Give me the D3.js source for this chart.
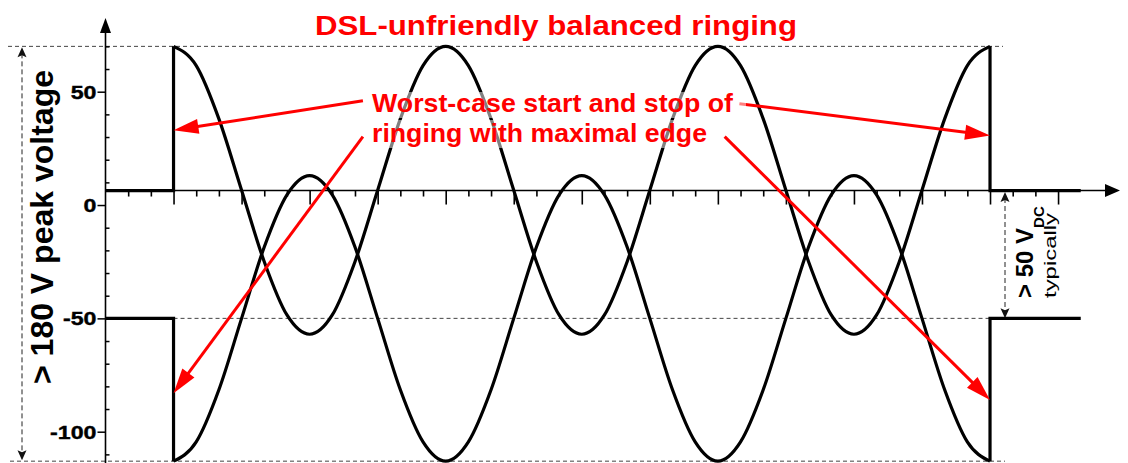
<!DOCTYPE html>
<html><head><meta charset="utf-8">
<script src="https://cdn.jsdelivr.net/npm/d3@7"></script>
<style>html,body{margin:0;padding:0;background:#fff;}svg{display:block;}text{font-family:Arial,"Liberation Sans",Helvetica,sans-serif;}</style>
</head><body>
<svg id="c" width="1128" height="463"></svg>
<script>
// ---- data (x in tick units, y in volts) ----
const ringX = [3,4,5,6,7,8,9,10,11,12,13,14,15,16,17,18,19,20,21,22,23,24,25,26,27,28,29,30,31,32,33,34,35,36,37,38,39];
const tipV  = [70,61.5,38,6.5,-25,-48.5,-57,-48.5,-25,6.5,38,61.5,
               70,61.5,38,6.5,-25,-48.5,-57,-48.5,-25,6.5,38,61.5,
               70,61.5,38,6.5,-25,-48.5,-57,-48.5,-25,6.5,38,61.5,70];
const ringV = [-113,-104.5,-81.5,-50,-18.5,4.5,13,4.5,-18.5,-50,-81.5,-104.5,
               -113,-104.5,-81.5,-50,-18.5,4.5,13,4.5,-18.5,-50,-81.5,-104.5,
               -113,-104.5,-81.5,-50,-18.5,4.5,13,4.5,-18.5,-50,-81.5,-104.5,-113];
const idleX = [0, 3, 39, 43];        // idle start, ringing start, ringing end, idle end
const tipIdle = 6.4, ringIdle = -50;
const tipPeak = 70, ringPeak = -113;
const minorX = [1,2,4,5,7,8,10,11,13,14,16,17,19,20,22,23,25,26,28,29,31,32,34,35,37,38,40,41];
const majorX = [3,6,9,12,15,18,21,24,27,30,33,36,39,42];
const minorY = [70,60,40,30,20,10,-10,-20,-30,-40,-60,-70,-80,-90,-110];
const majorY = [50,0,-50,-100];
const yLabels = ["50","0","-50","-100"];
const titleText = "DSL-unfriendly balanced ringing";
const noteLines = ["Worst-case start and stop of","ringing with maximal edge"];
const noteArrows = [
  {from:[11.35,46.0], to:[3,33]},
  {from:[27.95,44.7], to:[39,30.7]},
  {from:[11.35,30.2], to:[3,-83]},
  {from:[27.3,30.2],  to:[39,-86]}
];

// ---- setup ----
const svg = d3.select("#c");
const x = d3.scaleLinear().domain([0,42]).range([105.5, 105.5+42*22.68]);
const y = d3.scaleLinear().domain([-100,50]).range([431.7, 91.7]);
const RED = "#ff0000";
const FONT = "Arial, 'Liberation Sans', Helvetica, sans-serif";

// dashed reference lines
const dash = svg.append("g").attr("stroke","#444").attr("stroke-width",1).attr("stroke-dasharray","4,3").attr("fill","none");
dash.append("line").attr("x1",8).attr("x2",1003).attr("y1",y(tipPeak)).attr("y2",y(tipPeak));
dash.append("line").attr("x1",10).attr("x2",1005).attr("y1",y(ringPeak)).attr("y2",y(ringPeak));
dash.append("line").attr("x1",x(idleX[1])).attr("x2",x(idleX[2])).attr("y1",y(ringIdle)).attr("y2",y(ringIdle));

// dimension arrows (dashed, double headed)
function dimArrow(xp, y1, y2){
  const g = svg.append("g");
  g.append("line").attr("x1",xp).attr("x2",xp).attr("y1",y1+6).attr("y2",y2-6)
    .attr("stroke","#222").attr("stroke-width",1).attr("stroke-dasharray","5,3");
  g.append("path").attr("d",`M${xp},${y1} L${xp+4.5},${y1+10} L${xp},${y1+8} L${xp-4.5},${y1+10} Z`).attr("fill","#111");
  g.append("path").attr("d",`M${xp},${y2} L${xp+4.5},${y2-10} L${xp},${y2-8} L${xp-4.5},${y2-10} Z`).attr("fill","#111");
}
dimArrow(22, y(tipPeak)+1, y(ringPeak)-1);
dimArrow(1005, y(tipIdle)+1.5, y(ringIdle));

// axes
const axY = svg.append("g");
axY.append("line").attr("x1",x(0)).attr("x2",x(0)).attr("y1",463).attr("y2",30).attr("stroke","#000").attr("stroke-width",1.6);
axY.append("path").attr("d",`M${x(0)},18 L${x(0)+5.5},33 L${x(0)-5.5},33 Z`).attr("fill","#000");
const gMinY = svg.append("g").attr("transform",`translate(${x(0)},0)`).call(d3.axisRight(y).tickValues(minorY).tickSize(4).tickFormat(""));
const gMajY = svg.append("g").attr("transform",`translate(${x(0)},0)`).call(d3.axisLeft(y).tickValues(majorY).tickSize(8).tickFormat(""));
[gMinY,gMajY].forEach(g=>{g.select(".domain").remove(); g.selectAll("line").attr("stroke","#000").attr("stroke-width",1.5);});
svg.append("g").selectAll("text").data(majorY).join("text")
  .attr("transform",d=>`translate(96.5,${y(d)+6.8}) scale(1.22,1)`)
  .attr("text-anchor","end").attr("font-family",FONT).attr("font-size",19).attr("font-weight",700)
  .attr("stroke","#000").attr("stroke-width",0.4)
  .text((d,i)=>yLabels[i]);

const axisY0 = y(tipIdle);
const axX = svg.append("g");
axX.append("line").attr("x1",x(0)).attr("x2",1106).attr("y1",axisY0).attr("y2",axisY0).attr("stroke","#000").attr("stroke-width",1.6);
axX.append("path").attr("d",`M1120,${axisY0} L1105,${axisY0-6.5} L1105,${axisY0+6.5} Z`).attr("fill","#000");
const gMinX = svg.append("g").attr("transform",`translate(0,${axisY0})`).call(d3.axisBottom(x).tickValues(minorX).tickSize(6).tickFormat(""));
const gMajX = svg.append("g").attr("transform",`translate(0,${axisY0})`).call(d3.axisBottom(x).tickValues(majorX).tickSize(14).tickFormat(""));
[gMinX,gMajX].forEach(g=>{g.select(".domain").remove(); g.selectAll("line").attr("stroke","#000").attr("stroke-width",1.6);});

// curves
const stepLine = d3.line().x(d=>x(d[0])).y(d=>y(d[1]));
const waveLine = d3.line().x(d=>x(d[0])).y(d=>y(d[1])).curve(d3.curveMonotoneX);
const curves = svg.append("g").attr("fill","none").attr("stroke","#000").attr("stroke-width",3.2);
function drawSignal(vals, idle, peak){
  curves.append("path").attr("d", stepLine([[idleX[0],idle],[idleX[1],idle],[idleX[1],peak]])).attr("stroke-linejoin","miter");
  curves.append("path").attr("d", waveLine(ringX.map((v,i)=>[v, vals[i]])));
  curves.append("path").attr("d", stepLine([[idleX[2],peak],[idleX[2],idle],[idleX[3],idle]])).attr("stroke-linejoin","miter");
}
drawSignal(tipV, tipIdle, tipPeak);
drawSignal(ringV, ringIdle, ringPeak);

// red annotation arrows
const arr = svg.append("g");
noteArrows.forEach(a=>{
  const x1=x(a.from[0]), y1=y(a.from[1]), x2=x(a.to[0]), y2=y(a.to[1]);
  const ang = Math.atan2(y2-y1, x2-x1);
  const L=25, Wd=7.5;
  const bx = x2 - L*Math.cos(ang), by = y2 - L*Math.sin(ang);
  arr.append("line").attr("x1",x1).attr("y1",y1).attr("x2",bx+4*Math.cos(ang)).attr("y2",by+4*Math.sin(ang))
    .attr("stroke",RED).attr("stroke-width",3);
  arr.append("path").attr("d",`M${x2},${y2} L${bx - Wd*Math.sin(ang)},${by + Wd*Math.cos(ang)} L${bx + Wd*Math.sin(ang)},${by - Wd*Math.cos(ang)} Z`).attr("fill",RED);
});

// translucent backing behind note text
svg.append("rect").attr("x",366).attr("y",92).attr("width",380).attr("height",26).attr("fill","#fff").attr("opacity",0.5);
svg.append("rect").attr("x",366).attr("y",120).attr("width",346).attr("height",28).attr("fill","#fff").attr("opacity",0.5);

// texts
svg.append("text").attr("x",315).attr("y",35).attr("font-family",FONT).attr("font-size",27).attr("font-weight",700).attr("fill",RED)
  .attr("textLength",482).attr("lengthAdjust","spacingAndGlyphs").text(titleText);
const noteLens = [361, 335];
const noteBase = [112, 142];
noteLines.forEach((t,i)=>{
  svg.append("text").attr("x",372).attr("y",noteBase[i]).attr("font-family",FONT).attr("font-size",26).attr("font-weight",700).attr("fill",RED)
    .attr("textLength",noteLens[i]).attr("lengthAdjust","spacingAndGlyphs").text(t);
});
svg.append("text").attr("transform","translate(53,384) rotate(-90)").attr("font-family",FONT).attr("font-size",32).attr("font-weight",700)
  .attr("textLength",314).attr("lengthAdjust","spacingAndGlyphs").text("> 180 V peak voltage");
const t50 = svg.append("text").attr("transform","translate(1033,298) rotate(-90)").attr("font-family",FONT).attr("font-size",24).attr("font-weight",700);
t50.append("tspan").text("> 50 V");
t50.append("tspan").attr("font-size",15).attr("dy",11).text("DC");
svg.append("text").attr("transform","translate(1056,298) rotate(-90)").attr("font-family",FONT).attr("font-size",16)
  .attr("textLength",85).attr("lengthAdjust","spacingAndGlyphs").text("typically");
</script>
</body></html>
